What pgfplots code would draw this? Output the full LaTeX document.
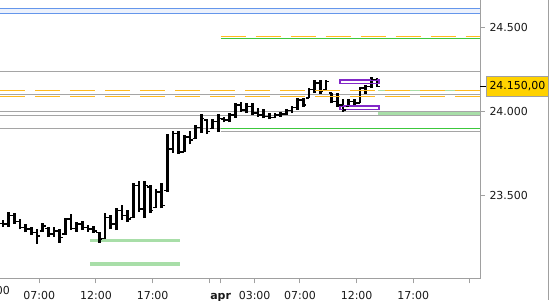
\documentclass[border=0pt]{standalone}
\usepackage{pgfplots}
\pgfplotsset{compat=1.18}
\usepackage{pgfplotstable}
\usepackage{fontspec}
\setmainfont{DejaVu Sans}
\newcommand\lbl{\fontsize{5.5}{6.6}\selectfont}
\definecolor{axgray}{RGB}{160,160,160}
\definecolor{lvl}{RGB}{165,165,165}
\definecolor{orng}{RGB}{255,185,30}
\definecolor{grn}{RGB}{60,200,60}
\definecolor{lgrn}{RGB}{168,222,168}
\definecolor{blu}{RGB}{100,150,235}
\definecolor{lblu}{RGB}{236,241,252}
\definecolor{purp}{RGB}{130,40,200}
\definecolor{gold}{RGB}{255,210,0}
\definecolor{txt}{RGB}{25,25,25}
\pgfdeclareplotmark{otick}{\pgfpathmoveto{\pgfqpoint{-1.5pt}{0pt}}\pgfpathlineto{\pgfqpoint{0pt}{0pt}}\pgfusepathqstroke}
\pgfdeclareplotmark{ctick}{\pgfpathmoveto{\pgfqpoint{0pt}{0pt}}\pgfpathlineto{\pgfqpoint{1.5pt}{0pt}}\pgfusepathqstroke}
\pgfplotstableread{
t O H L C
3.8 23.335 23.355 23.315 23.330
4.3 23.330 23.404 23.315 23.380
4.8 23.380 23.395 23.331 23.345
5.3 23.345 23.361 23.299 23.310
5.8 23.310 23.331 23.281 23.300
6.3 23.300 23.315 23.265 23.280
6.8 23.280 23.299 23.212 23.260
7.3 23.290 23.339 23.285 23.320
7.8 23.305 23.315 23.252 23.270
8.3 23.270 23.311 23.252 23.290
8.8 23.290 23.299 23.220 23.250
9.3 23.270 23.365 23.265 23.360
9.8 23.360 23.390 23.295 23.305
10.3 23.305 23.345 23.285 23.330
10.8 23.330 23.351 23.295 23.310
11.3 23.310 23.325 23.285 23.300
11.8 23.300 23.319 23.279 23.290
12.3 23.280 23.285 23.220 23.240
12.8 23.245 23.398 23.240 23.370
13.3 23.370 23.384 23.299 23.330
13.8 23.330 23.424 23.295 23.410
14.3 23.410 23.444 23.355 23.380
14.8 23.380 23.414 23.345 23.360
15.3 23.370 23.577 23.365 23.560
15.8 23.560 23.589 23.404 23.420
16.3 23.420 23.589 23.365 23.560
16.8 23.550 23.563 23.395 23.410
17.3 23.430 23.537 23.424 23.520
17.8 23.520 23.573 23.424 23.440
18.3 23.530 23.865 23.520 23.777
18.8 23.777 23.884 23.752 23.870
19.3 23.870 23.884 23.746 23.760
19.8 23.760 23.861 23.758 23.850
20.3 23.850 23.884 23.805 23.830
20.8 23.840 23.920 23.835 23.905
21.3 23.905 23.984 23.871 23.960
21.8 23.950 23.956 23.865 23.880
22.3 23.900 23.956 23.896 23.940
22.8 23.940 23.984 23.877 23.960
23.3 23.955 23.970 23.936 23.950
23.8 23.950 23.990 23.936 23.980
24.3 23.980 24.049 23.964 24.040
24.8 24.040 24.054 23.999 24.010
25.3 24.010 24.050 23.990 24.030
25.8 24.030 24.049 23.980 23.990
26.3 23.990 24.020 23.970 23.980
26.8 23.980 24.014 23.960 23.970
27.3 23.970 23.993 23.954 23.965
27.8 23.965 23.993 23.960 23.980
28.3 23.980 23.999 23.970 23.985
28.8 23.985 24.014 23.980 24.005
29.3 24.005 24.033 23.990 24.025
29.8 24.025 24.079 24.009 24.070
30.3 24.070 24.079 24.029 24.040
30.8 24.080 24.139 24.079 24.130
31.3 24.130 24.188 24.109 24.170
31.8 24.170 24.188 24.105 24.120
32.3 24.130 24.188 24.128 24.180
32.8 24.110 24.112 24.049 24.060
33.3 24.060 24.109 24.029 24.040
33.8 24.040 24.073 23.999 24.010
34.3 24.030 24.073 24.025 24.060
34.8 24.060 24.073 24.033 24.050
35.3 24.050 24.148 24.049 24.140
35.8 24.140 24.158 24.105 24.150
36.3 24.150 24.208 24.139 24.190
36.8 24.190 24.198 24.148 24.150
}\bars
\begin{document}
\begin{tikzpicture}
\begin{axis}[
  scale only axis, width=240pt, height=139.5pt,
  xmin=3.533, xmax=45.884, ymin=23.0034, ymax=24.6641,
  clip=false,
  axis x line*=bottom, axis y line*=right,
  axis line style={axgray, line width=0.5pt, -},
  xtick={7,12,17,22,23,26,30,35,40,45},
  xticklabels={07:00,12:00,17:00,,\textbf{apr},03:00,07:00,12:00,17:00,},
  ytick={23.5,24,24.5},
  yticklabels={23.500,24.000,24.500},
  tick align=outside,
  major tick length=2.25pt,
  tick style={axgray, line width=0.5pt},
  xticklabel style={anchor=base, inner sep=0pt, yshift=-8pt, font=\lbl, text=txt},
  yticklabel style={anchor=west, inner sep=0pt, xshift=2.3pt, font=\lbl, text=txt},
]
\coordinate (tl) at (rel axis cs:0,1);
% blue band
\addplot[draw=none, fill=lblu] coordinates {(3.533,24.5837) (45.884,24.5837) (45.884,24.6135) (3.533,24.6135)} -- cycle;
\addplot[blu, line width=0.55pt] coordinates {(3.533,24.6135) (45.884,24.6135)};
\addplot[blu, line width=0.55pt] coordinates {(3.533,24.5837) (45.884,24.5837)};
% levels from apr
\addplot[orng, line width=0.55pt, dash pattern=on 12.5pt off 5pt] coordinates {(23,24.4468) (45.884,24.4468)};
\addplot[grn, line width=0.55pt] coordinates {(23,24.4349) (45.884,24.4349)};
% gray levels
\addplot[lvl, line width=0.5pt] coordinates {(3.533,24.2385) (45.884,24.2385)};
\addplot[lvl, line width=0.5pt] coordinates {(3.533,24.1016) (45.884,24.1016)};
\addplot[lvl, line width=0.5pt] coordinates {(3.533,24.0004) (45.884,24.0004)};
\addplot[lvl, line width=0.5pt] coordinates {(3.533,23.9766) (45.884,23.9766)};
\addplot[lvl, line width=0.5pt] coordinates {(3.533,23.8992) (45.884,23.8992)};
\addplot[lvl, line width=0.5pt] coordinates {(23,23.8814) (45.884,23.8814)};
\addplot[grn, line width=0.55pt] coordinates {(23,23.8992) (45.884,23.8992)};
% light green zones
\addplot[lgrn, line width=0.7pt] coordinates {(36.9,24.1254) (45.884,24.1254)};
\addplot[draw=none, fill=lgrn] coordinates {(36.9,23.9766) (45.884,23.9766) (45.884,24.0004) (36.9,24.0004)} -- cycle;
\addplot[lgrn, line width=1.2pt] coordinates {(11.5,23.233) (19.4,23.233)};
\addplot[lgrn, line width=1.6pt] coordinates {(11.5,23.093) (19.4,23.093)};
% OHLC bars
\addplot[draw=none, mark=none, error bars/.cd, y dir=plus, y explicit, error mark=none,
  error bar style={draw=black, solid, line width=1.4pt}]
  table[x=t, y=L, y error expr=\thisrow{H}-\thisrow{L}] {\bars};
\addplot[only marks, mark=otick, mark options={black, solid, line width=0.75pt}] table[x=t, y=O] {\bars};
\addplot[only marks, mark=ctick, mark options={black, solid, line width=0.75pt}] table[x=t, y=C] {\bars};
% orange dashed levels
\addplot[orng, line width=0.55pt, dash pattern=on 12.5pt off 5pt] coordinates {(3.533,24.1254) (45.884,24.1254)};
\addplot[orng, line width=0.55pt, dash pattern=on 12.5pt off 5pt] coordinates {(3.533,24.0897) (45.884,24.0897)};
% purple boxes
\addplot[purp, line width=0.6pt] coordinates {(33.53,24.168) (36.97,24.168) (36.97,24.188) (33.53,24.188)} -- cycle;
\addplot[purp, line width=0.6pt] coordinates {(33.53,24.014) (36.97,24.014) (36.97,24.033) (33.53,24.033)} -- cycle;
% clipped first label and price marker
\node[anchor=base, inner sep=0pt, font=\lbl, text=txt] at ([yshift=-8pt]axis cs:3,23.0034) {03:00};
\draw[black, line width=0.5pt] (axis cs:45.884,24.152) -- ++(2.85pt,0pt);
\node[anchor=west, fill=gold, draw=axgray, line width=0.5pt, inner xsep=1.65pt, inner ysep=0pt, minimum height=10pt, font=\lbl, text=black] at ([xshift=2.85pt]axis cs:45.884,24.152) {24.150,00};
\draw[axgray, line width=0.5pt] (rel axis cs:1.14271,1) -- ([yshift=-150pt]rel axis cs:1.14271,1);
\end{axis}
\pgfresetboundingbox
\path[use as bounding box] (tl) rectangle ([xshift=275pt,yshift=-150pt]tl);
\end{tikzpicture}
\end{document}
